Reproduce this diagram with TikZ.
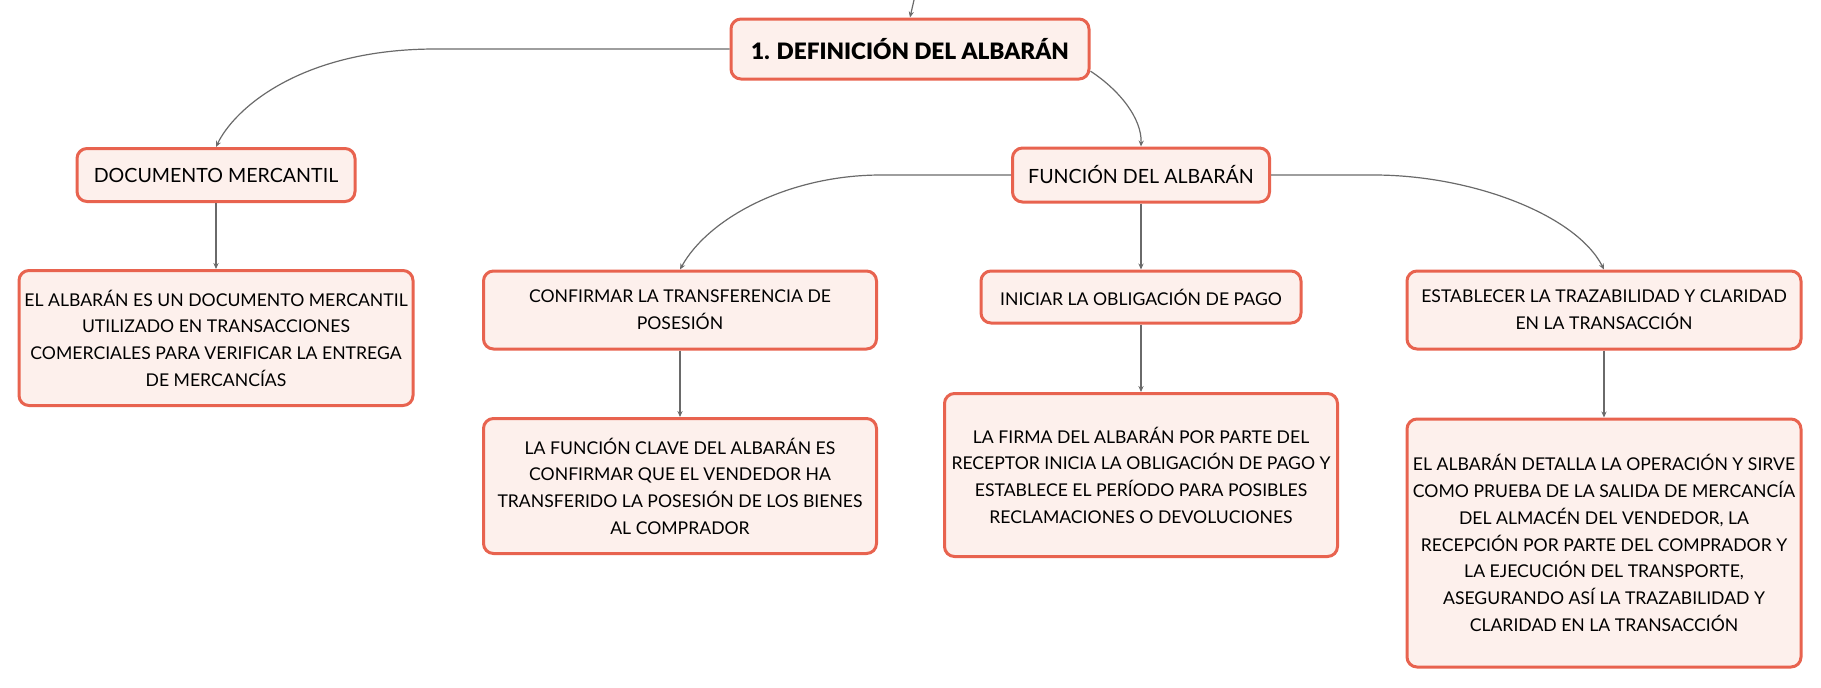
\documentclass[tikz,border=0pt]{standalone}
\usepackage{fontspec}
\setmainfont{Lato}[BoldFont={Lato Black}]
\usepackage{tikz}
\usetikzlibrary{arrows.meta}
\definecolor{boxred}{HTML}{E8634F}
\definecolor{boxfill}{HTML}{FDF0EC}
\definecolor{linkgray}{HTML}{6A6A6A}

\begin{document}
\begin{tikzpicture}[x=0.5pt, y=-0.5pt,
		topic/.style={draw=boxred, fill=boxfill, line width=1.5pt, rounded corners=5pt, align=center, inner sep=2pt, font=\fontsize{8.8}{13.35}\selectfont},
		bigtopic/.style={topic, font=\fontsize{9.8}{13.35}\selectfont},
		link/.style={draw=linkgray, line width=0.6pt, -{Stealth[length=3pt, width=2.6pt]}}]
			%%%%% START %%%%%
			
			\useasboundingbox (0, 0) rectangle (1821, 687);
			
			\node[topic, minimum width=179pt, minimum height=30pt, font=\fontsize{11.3}{14}\selectfont\bfseries] (title) at (910, 49) {1. DEFINICIÓN DEL ALBARÁN};
			
			\node[bigtopic, minimum width=139pt, minimum height=26.5pt] (docm) at (216, 175) {DOCUMENTO MERCANTIL};
			\node[topic, minimum width=197pt, minimum height=67.5pt] (docmtxt) at (216, 338) {EL ALBARÁN ES UN DOCUMENTO MERCANTIL\\UTILIZADO EN TRANSACCIONES\\COMERCIALES PARA VERIFICAR LA ENTREGA\\DE MERCANCÍAS};
			
			\node[bigtopic, minimum width=128.5pt, minimum height=27pt] (func) at (1141, 175) {FUNCIÓN DEL ALBARÁN};
			
			\node[topic, minimum width=196.5pt, minimum height=39pt] (conf) at (680, 310) {CONFIRMAR LA TRANSFERENCIA DE\\POSESIÓN};
			\node[topic, minimum width=196.5pt, minimum height=67.5pt] (conftxt) at (680, 486) {LA FUNCIÓN CLAVE DEL ALBARÁN ES\\CONFIRMAR QUE EL VENDEDOR HA\\TRANSFERIDO LA POSESIÓN DE LOS BIENES\\AL COMPRADOR};
			
			\node[topic, minimum width=160pt, minimum height=26pt] (inic) at (1141, 297) {INICIAR LA OBLIGACIÓN DE PAGO};
			\node[topic, minimum width=196.5pt, minimum height=81.5pt] (inictxt) at (1141, 475) {LA FIRMA DEL ALBARÁN POR PARTE DEL\\RECEPTOR INICIA LA OBLIGACIÓN DE PAGO Y\\ESTABLECE EL PERÍODO PARA POSIBLES\\RECLAMACIONES O DEVOLUCIONES};
			
			\node[topic, minimum width=197pt, minimum height=39pt] (estab) at (1604, 310) {ESTABLECER LA TRAZABILIDAD Y CLARIDAD\\EN LA TRANSACCIÓN};
			\node[topic, minimum width=197pt, minimum height=124pt] (estabtxt) at (1604, 543) {EL ALBARÁN DETALLA LA OPERACIÓN Y SIRVE\\COMO PRUEBA DE LA SALIDA DE MERCANCÍA\\DEL ALMACÉN DEL VENDEDOR, LA\\RECEPCIÓN POR PARTE DEL COMPRADOR Y\\LA EJECUCIÓN DEL TRANSPORTE,\\ASEGURANDO ASÍ LA TRAZABILIDAD Y\\CLARIDAD EN LA TRANSACCIÓN};
			
			\coordinate (up) at (914, 0);
			\draw[link] (up) -- (title.north);
			
			\draw[link] (title.west) -- ++(-294, 0) .. controls +(-135, 0) and +(18, -38) .. (docm.north);
			\draw[link] (title.-7) .. controls +(29, 19) and +(1, -28) .. (func.north);
			\draw[link] (docm.south) -- (docmtxt.north);
			
			\draw[link] (func.west) -- ++(-130, 0) .. controls +(-93, 0) and +(28, -51) .. (conf.north);
			\draw[link] (func.south) -- (inic.north);
			\draw[link] (func.east) -- ++(103, 0) .. controls +(97, 0) and +(-28, -55) .. (estab.north);
			
			\draw[link] (conf.south) -- (conftxt.north);
			\draw[link] (inic.south) -- (inictxt.north);
			\draw[link] (estab.south) -- (estabtxt.north);
			
			%%%%% END %%%%%
		\end{tikzpicture}
\end{document}
